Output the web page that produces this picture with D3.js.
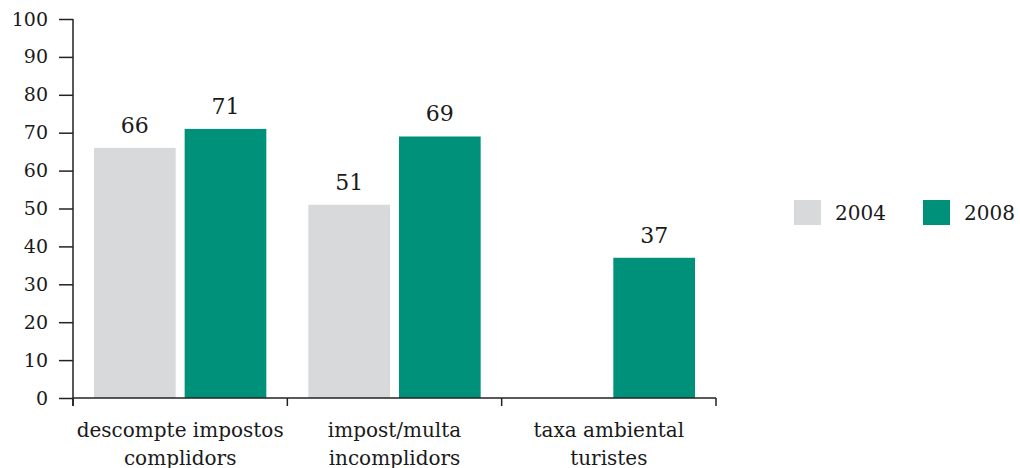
<!DOCTYPE html>
<html><head><meta charset="utf-8">
<script src="https://cdn.jsdelivr.net/npm/d3@7"></script>
<style>body{margin:0;background:#fff}svg{display:block}text{font-family:"DejaVu Serif",serif;fill:#1a1a1a}</style>
</head><body>
<svg id="c" width="1020" height="468"></svg>
<script>
const categories = [["descompte impostos","complidors"],["impost/multa","incomplidors"],["taxa ambiental","turistes"]];
const series = ["2004","2008"];
const values2004 = [66, 51, null];
const values2008 = [71, 69, 37];
const yTicks = [0,10,20,30,40,50,60,70,80,90,100];
const colors = ["#d8d9db","#00917a"];

const svg = d3.select("#c");
const x = d3.scaleBand().domain(d3.range(categories.length)).range([73,716]);
const xi = d3.scaleBand().domain(series).range([21, x.bandwidth()-21]).paddingInner(0.099);
const y = d3.scaleLinear().domain([0,100]).range([398,19]);
const data = [values2004, values2008];

// bars
series.forEach((s,si)=>{
  const g = svg.append("g");
  data[si].forEach((v,ci)=>{
    if(v==null) return;
    const bx = x(ci)+xi(s);
    g.append("rect").attr("x",bx).attr("y",y(v)).attr("width",xi.bandwidth()).attr("height",y(0)-y(v)).attr("fill",colors[si]);
    g.append("text").attr("x",bx+xi.bandwidth()/2).attr("y",y(v)-15).attr("text-anchor","middle").attr("font-size",22).text(v);
  });
});

// y axis
const ya = svg.append("g").attr("transform","translate(73,0)")
  .call(d3.axisLeft(y).tickValues(yTicks).tickSize(14).tickPadding(11));
ya.select(".domain").remove();
ya.append("line").attr("x1",0).attr("x2",0).attr("y1",y(100)).attr("y2",y(0)+8).attr("stroke","#222").attr("stroke-width",1.5);
ya.selectAll(".tick line").attr("stroke","#222").attr("stroke-width",1.5);
ya.selectAll(".tick text").attr("font-size",19).attr("fill","#1a1a1a").attr("font-family","DejaVu Serif");

// x axis
const xa = svg.append("g").attr("transform",`translate(0,${y(0)})`);
xa.append("line").attr("x1",73).attr("x2",716).attr("stroke","#222").attr("stroke-width",1.5);
const bounds = d3.range(categories.length+1).map(i=> i<categories.length ? x(i) : x(i-1)+x.bandwidth());
xa.selectAll("line.t").data(bounds).enter().append("line").attr("class","t")
  .attr("x1",d=>d).attr("x2",d=>d).attr("y1",0).attr("y2",8).attr("stroke","#222").attr("stroke-width",1.5);
categories.forEach((lines,ci)=>{
  const t = xa.append("text").attr("x",x(ci)+x.bandwidth()/2).attr("y",39).attr("text-anchor","middle").attr("font-size",20);
  lines.forEach((l,li)=>t.append("tspan").attr("x",x(ci)+x.bandwidth()/2).attr("dy",li?28:0).text(l));
});

// legend
const lx = [794, 923];
series.forEach((s,i)=>{
  svg.append("rect").attr("x",lx[i]).attr("y",200).attr("width",27).attr("height",25).attr("fill",colors[i]);
  svg.append("text").attr("x",lx[i]+41).attr("y",220).attr("font-size",20).text(s);
});
</script>
</body></html>
